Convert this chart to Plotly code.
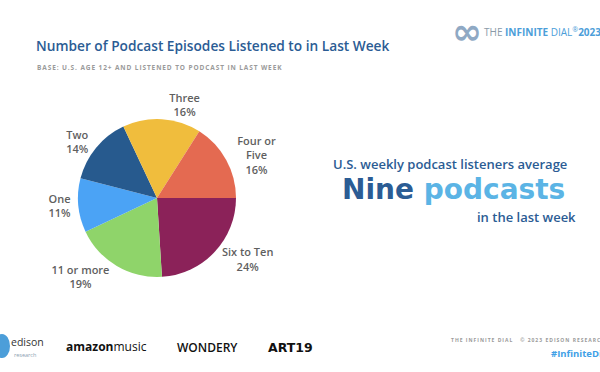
import plotly.graph_objects as go

categories = ["Six to Ten", "11 or more", "One", "Two", "Three", "Four or<br>Five"]
values = [24, 19, 11, 14, 16, 16]
colors = ["#8B2259", "#8FD46A", "#4BA3F5", "#275A8E", "#F0BD3D", "#E46A51"]

title_text = "Number of Podcast Episodes Listened to in Last Week"
base_text = "BASE: U.S. AGE 12+ AND LISTENED TO PODCAST IN LAST WEEK"

W, H = 600, 372
FONT = "Open Sans"
DARK = "#2B5C94"
LIGHT = "#5BB4E5"

fig = go.Figure()
fig.add_trace(go.Pie(
    labels=categories,
    values=values,
    marker=dict(colors=colors, line=dict(width=0)),
    sort=False,
    direction="clockwise",
    rotation=90,
    textposition="outside",
    texttemplate="%{label}<br>%{value}%",
    textfont=dict(family=FONT, size=11, color="#5f5f5f", weight=600),
    showlegend=False,
    hoverinfo="skip",
    domain=dict(x=[78 / W, 236 / W], y=[1 - 277 / H, 1 - 119 / H]),
))


def A(text, x, y, size, color, weight=400, xanchor="left", family=FONT):
    return dict(text=text, x=x / W, y=1 - y / H, xref="paper", yref="paper",
                xanchor=xanchor, yanchor="middle", showarrow=False, borderpad=0,
                font=dict(family=family, size=size, color=color, weight=weight))


annotations = [
    A(title_text, 35, 45, 13.7, DARK, 600),
    A("<span style='letter-spacing:0.9px'>" + base_text + "</span>", 36, 67, 6.5, "#9a9a9a", 700),
    A("U.S. weekly podcast listeners average", 450, 164, 13, DARK, 600, "center"),
    A("<span style='color:%s'>Nine</span> <span style='color:%s'>podcasts</span>" % (DARK, LIGHT),
      453, 189, 28, DARK, 700, "center", "DejaVu Sans"),
    A("in the last week", 577, 217, 13, DARK, 600, "right"),
    A("∞", 451, 31, 36, "#8FA9C4", 700, "left", "DejaVu Sans"),
    A("<span style='color:#8a9aa8'>THE</span> <b>INFINITE</b> DIAL<sup>®</sup><b>2023</b>",
      483, 32, 10, "#4C9ED9", 400),
    A("<span style='letter-spacing:1px'>THE INFINITE DIAL   © 2023 EDISON RESEARCH</span>",
      450, 340, 5, "#9a9a9a", 700),
    A("#InfiniteDial", 550, 353, 9.5, "#3FA0E6", 700),
    A("edison", 10, 342, 10.5, "#333333", 400),
    A("research", 13, 355, 5.5, "#8aa0b0", 400),
    A("<b>amazon</b>music", 65, 346, 12, "#111111", 400),
    A("WONDERY", 176, 347, 12, "#111111", 600),
    A("ART19", 267, 347, 12.5, "#111111", 700, "left", "DejaVu Sans"),
]

shapes = [dict(type="circle", xref="paper", yref="paper",
               x0=-6 / W, x1=10 / W, y0=1 - 358 / H, y1=1 - 334 / H,
               fillcolor="#4C9ED9", line=dict(width=0))]

fig.update_layout(
    width=W, height=H,
    margin=dict(l=0, r=0, t=0, b=0),
    paper_bgcolor="white", plot_bgcolor="white",
    annotations=annotations,
    shapes=shapes,
)

post = """
document.body.style.margin='0';
document.body.style.padding='0';
document.body.style.overflow='hidden';
var gd=document.getElementById('{plot_id}');
gd.style.position='absolute';gd.style.left='0px';gd.style.top='0px';
Plotly.relayout(gd,{width:600,height:372});
"""
fig.write_html("out.html", config={"displayModeBar": False}, post_script=post)
